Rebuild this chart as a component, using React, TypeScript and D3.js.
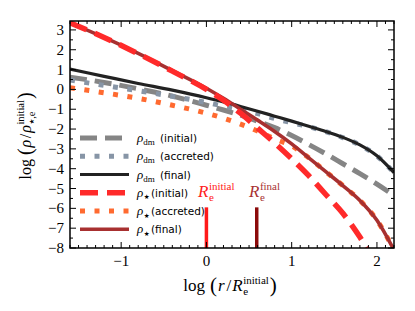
import React, { useEffect, useRef } from 'react';
import * as d3 from 'd3';

// log(r / Re_initial) grid and log density curves
const logR = [-1.6, -1.2, -0.8, -0.4, 0, 0.2, 0.4, 0.6, 0.8, 1.0, 1.2, 1.4, 1.6, 1.8, 2.0, 2.2];
const dmInitial = [0.62, 0.35, 0.03, -0.34, -0.8, -1.04, -1.3, -1.6, -1.93, -2.33, -2.78, -3.25, -3.75, -4.25, -4.78, -5.35];
const dmAccreted = [0.47, 0.2, -0.07, -0.35, -0.66, -0.84, -1.02, -1.22, -1.47, -1.68, -1.88, -2.13, -2.43, -2.81, -3.36, -4.2];
const dmFinal = [1.02, 0.66, 0.3, -0.04, -0.42, -0.63, -0.86, -1.1, -1.35, -1.6, -1.86, -2.12, -2.42, -2.8, -3.35, -4.2];
const starInitial = [3.36, 2.62, 1.8, 0.92, 0.0, -0.55, -1.2, -1.95, -2.7, -3.5, -4.35, -5.3, -6.25, -7.45, -8.9, -10.5];
const starAccreted = [0.08, -0.17, -0.45, -0.8, -1.2, -1.45, -1.75, -2.1, -2.5, -2.85, -3.45, -4.15, -4.85, -5.6, -6.6, -8.1];
const starFinal = [3.36, 2.62, 1.82, 0.95, 0.06, -0.45, -1.0, -1.55, -2.12, -2.75, -3.45, -4.15, -4.85, -5.6, -6.6, -8.1];

const xTicks = [-1, 0, 1, 2];
const yTicks = [-8, -7, -6, -5, -4, -3, -2, -1, 0, 1, 2, 3];

// effective radii (log r) and the top of the marker lines
const reInitial = 0;
const reFinal = 0.59;
const reTop = -5.95;

const STAR = '\u2605';

const series = [
  { sub: 'dm', tag: '(initial)', values: dmInitial, color: '#858585', width: 5, dash: '17,8' },
  { sub: 'dm', tag: '(accreted)', values: dmAccreted, color: '#8795a6', width: 5, dash: '5,9.5' },
  { sub: 'dm', tag: '(final)', values: dmFinal, color: '#222222', width: 3.2, dash: null },
  { sub: STAR, tag: '(initial)', values: starInitial, color: '#ff2a2a', width: 5.5, dash: '18,9' },
  { sub: STAR, tag: '(accreted)', values: starAccreted, color: '#ff6a30', width: 5, dash: '5,9.5' },
  { sub: STAR, tag: '(final)', values: starFinal, color: '#a83030', width: 3.6, dash: null },
];
// draw order: dark red final under the red dashed initial
const drawOrder = [0, 1, 2, 4, 5, 3];

const serif = '"Liberation Serif", "DejaVu Serif", serif';
const sans = '"DejaVu Sans", "Open Sans", sans-serif';

type Piece = {
  t: string; size: number; italic?: boolean; family?: string; shift?: number;
  stack?: boolean; after?: boolean; gap?: number; at?: number;
};

// lays out a row of text pieces left to right
// stack: same x as the previous piece; after: right behind the previous piece
const mathRow = (parent: any, pieces: Piece[], x: number, y: number, anchor: string, color: string, rotate = 0) => {
  const g = parent.append('g').attr('transform', `translate(${x},${y}) rotate(${rotate})`);
  let cursor = 0;
  let prevStart = 0;
  let prevEnd = 0;
  const nodes: any[] = [];
  pieces.forEach((p) => {
    const t = g.append('text')
      .attr('font-family', p.family || serif)
      .attr('font-size', p.size)
      .attr('font-style', p.italic ? 'italic' : 'normal')
      .attr('fill', color)
      .attr('y', p.shift || 0)
      .text(p.t);
    const w = t.node().getComputedTextLength();
    let start = cursor + (p.gap || 0);
    if (p.at !== undefined) start = p.at;
    else if (p.stack) start = prevStart;
    else if (p.after) start = prevEnd + (p.gap || 0);
    t.attr('x', start);
    nodes.push(t);
    cursor = p.stack || p.after ? Math.max(cursor, start + w) : start + w;
    prevStart = start;
    prevEnd = start + w;
  });
  const off = anchor === 'middle' ? -cursor / 2 : anchor === 'end' ? -cursor : 0;
  nodes.forEach((t) => t.attr('x', +t.attr('x') + off));
  return g;
};

const App = () => {
  const ref = useRef<SVGSVGElement>(null);

  useEffect(() => {
    const svg = d3.select(ref.current);
    svg.selectAll('*').remove();

    const x = d3.scaleLinear().domain([-1.6, 2.2]).range([70, 394]);
    const y = d3.scaleLinear().domain([-8, 3.45]).range([248, 21]);
    const [x0, x1] = x.range();
    const [y0, y1] = y.range();

    svg.append('defs').append('clipPath').attr('id', 'plot')
      .append('rect').attr('x', x0).attr('y', y1).attr('width', x1 - x0).attr('height', y0 - y1);

    const plot = svg.append('g').attr('clip-path', 'url(#plot)');
    const line = d3.line<number>()
      .x((_, i) => x(logR[i]))
      .y((d) => y(d))
      .curve(d3.curveMonotoneX);

    drawOrder.forEach((k) => {
      const s = series[k];
      plot.append('path')
        .attr('d', line(s.values))
        .attr('fill', 'none')
        .attr('stroke', s.color)
        .attr('stroke-width', s.width)
        .attr('stroke-dasharray', s.dash)
        .attr('stroke-linecap', 'butt');
    });

    // effective radius markers
    const markers = [
      { v: reInitial, color: '#ff1a1a', sup: 'initial', lx: 198, label: '#ff2020' },
      { v: reFinal, color: '#8b0a0a', sup: 'final', lx: 249, label: '#a83232' },
    ];
    markers.forEach((m) => {
      plot.append('line')
        .attr('x1', x(m.v)).attr('x2', x(m.v))
        .attr('y1', y(-8)).attr('y2', y(reTop))
        .attr('stroke', m.color).attr('stroke-width', 3.5);
    });
    markers.forEach((m) => {
      mathRow(svg, [
        { t: 'R', size: 17, italic: true },
        { t: m.sup, size: 11, shift: -7, gap: 0.5 },
        { t: 'e', size: 11, shift: 4, stack: true },
      ], m.lx, 197, 'start', m.label);
    });

    // axes frame
    svg.append('rect').attr('x', x0).attr('y', y1).attr('width', x1 - x0).attr('height', y0 - y1)
      .attr('fill', 'none').attr('stroke', '#000').attr('stroke-width', 1.5);

    const ticks = svg.append('g').attr('stroke', '#000').attr('stroke-width', 1);
    const xMinor = d3.range(-16, 23).map((d) => d / 10);
    const yMinor = d3.range(-16, 7).map((d) => d / 2);
    xMinor.forEach((v) => {
      const major = xTicks.includes(Math.round(v * 10) / 10);
      const len = major ? 6 : 3;
      ticks.append('line').attr('x1', x(v)).attr('x2', x(v)).attr('y1', y0).attr('y2', y0 - len);
      ticks.append('line').attr('x1', x(v)).attr('x2', x(v)).attr('y1', y1).attr('y2', y1 + len);
    });
    yMinor.forEach((v) => {
      const major = yTicks.includes(v);
      const len = major ? 6 : 3;
      ticks.append('line').attr('x1', x0).attr('x2', x0 + len).attr('y1', y(v)).attr('y2', y(v));
      ticks.append('line').attr('x1', x1).attr('x2', x1 - len).attr('y1', y(v)).attr('y2', y(v));
    });

    const fmt = (d: number) => (d < 0 ? '\u2212' + Math.abs(d) : String(d));
    svg.append('g').selectAll('text').data(xTicks).enter().append('text')
      .attr('x', (d) => x(d)).attr('y', 266)
      .attr('text-anchor', 'middle')
      .attr('font-family', serif).attr('font-size', 15)
      .text(fmt);
    svg.append('g').selectAll('text').data(yTicks).enter().append('text')
      .attr('x', 64).attr('y', (d) => y(d) + 5)
      .attr('text-anchor', 'end')
      .attr('font-family', serif).attr('font-size', 15)
      .text(fmt);

    // x label: log (r / Re^initial)
    mathRow(svg, [
      { t: 'log', size: 17 },
      { t: '(', size: 21, gap: 5, shift: 1 },
      { t: 'r', size: 17, italic: true, gap: 1 },
      { t: '/', size: 17, gap: 2 },
      { t: 'R', size: 17, italic: true, gap: 1 },
      { t: 'initial', size: 11, shift: -7, gap: 0.5 },
      { t: 'e', size: 11, shift: 4, stack: true },
      { t: ')', size: 21, gap: 1, shift: 1 },
    ], 230, 291, 'middle', '#000');

    // y label: log (rho / rho_*,e^initial)
    mathRow(svg, [
      { t: 'log', size: 16 },
      { t: '(', size: 20, gap: 4, shift: 1 },
      { t: '\u03c1', size: 16, italic: true, gap: 1 },
      { t: '/', size: 16, gap: 1.5 },
      { t: '\u03c1', size: 16, italic: true, gap: 1 },
      { t: 'initial', size: 10.5, shift: -7, gap: 0.5 },
      { t: STAR, size: 6.5, family: sans, shift: 3, stack: true },
      { t: ',e', size: 10.5, shift: 4, after: true },
      { t: ')', size: 20, gap: 1, shift: 1 },
    ], 31, 136, 'middle', '#000', -90);

    // legend
    const rowY = [138, 156.3, 174.5, 192.7, 211, 229.2];
    const legend = svg.append('g');
    series.forEach((s, i) => {
      legend.append('line')
        .attr('x1', 80).attr('x2', 129).attr('y1', rowY[i]).attr('y2', rowY[i])
        .attr('stroke', s.color).attr('stroke-width', s.width)
        .attr('stroke-dasharray', s.dash);
      const isDm = s.sub === 'dm';
      const subPiece: Piece = isDm
        ? { t: 'dm', size: 9, shift: 3 }
        : { t: s.sub, size: 6.5, family: sans, shift: 2.5, gap: 0.5 };
      mathRow(legend, [
        { t: '\u03c1', size: 13, italic: true },
        subPiece,
        { t: s.tag, size: 10.5, family: sans, at: isDm ? 23 : 14 },
      ], 137, rowY[i] + 4, 'start', '#000');
    });
  }, []);

  return (
    <svg
      ref={ref}
      width={415}
      height={311}
      style={{ position: 'absolute', left: 0, top: 0, background: '#fff' }}
    />
  );
};

export default App;
